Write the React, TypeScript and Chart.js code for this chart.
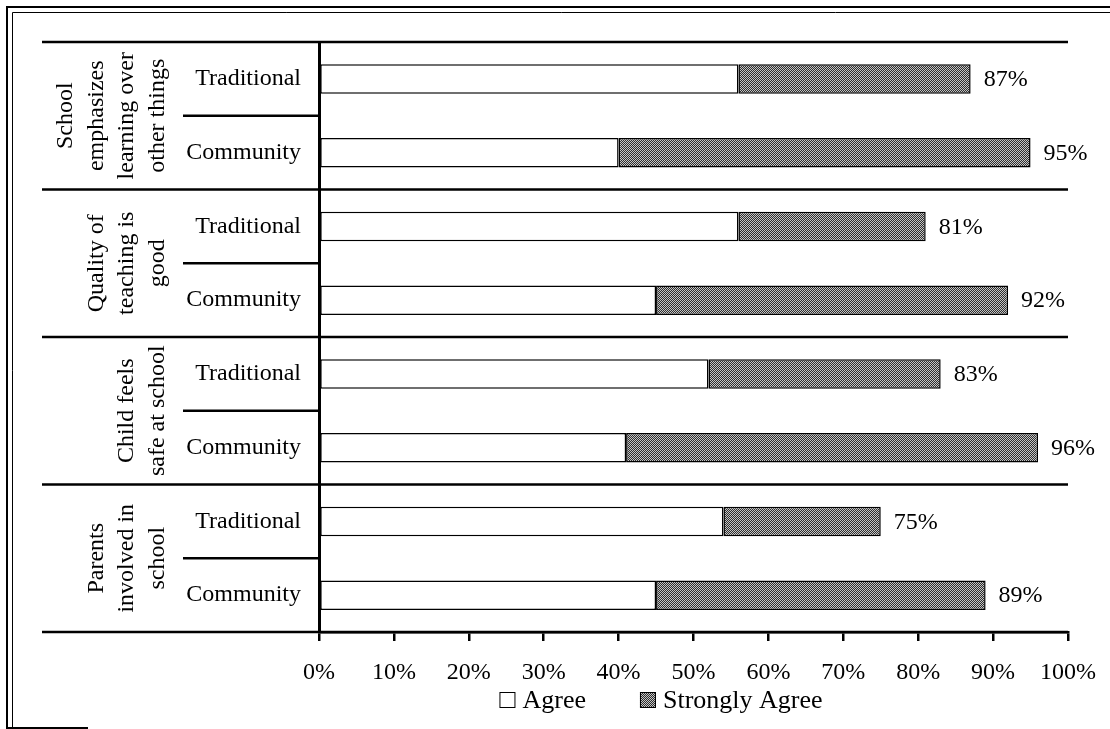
import { useEffect, useRef } from "react";
import { Chart, registerables } from "chart.js";

Chart.register(...registerables);

// Survey rows: each statement has a Traditional and a Community school row
const rowLabels = [
  "Traditional", "Community",
  "Traditional", "Community",
  "Traditional", "Community",
  "Traditional", "Community",
];
const groupLabels = [
  ["School", "emphasizes", "learning over", "other things"],
  ["Quality of", "teaching is", "good"],
  ["Child feels", "safe at school"],
  ["Parents", "involved in", "school"],
];
const agree = [56, 40, 56, 45, 52, 41, 54, 45];
const stronglyAgree = [31, 55, 25, 47, 31, 55, 21, 44];
const seriesNames = ["Agree", "Strongly Agree"];
const xMin = 0;
const xMax = 100;
const xStep = 10;

const FONT = "'Liberation Serif', 'Times New Roman', serif";

function makeStipple(): CanvasPattern | string {
  const c = document.createElement("canvas");
  c.width = 2;
  c.height = 2;
  const g = c.getContext("2d");
  if (!g) return "#888";
  g.fillStyle = "#2e2e2e";
  g.fillRect(0, 0, 2, 2);
  g.fillStyle = "#c4c4c4";
  g.fillRect(0, 0, 1, 1);
  g.fillRect(1, 1, 1, 1);
  const p = g.createPattern(c, "repeat");
  return p || "#888";
}

export default function App() {
  const ref = useRef<HTMLCanvasElement | null>(null);

  useEffect(() => {
    document.body.style.margin = "0";
    const canvas = ref.current;
    if (!canvas) return;
    const stipple = makeStipple();

    const decor = {
      id: "decor",
      beforeDraw(chart: Chart) {
        const ctx = chart.ctx;
        ctx.save();
        ctx.fillStyle = "#fff";
        ctx.fillRect(0, 0, chart.width, chart.height);
        // double page frame
        ctx.strokeStyle = "#000";
        ctx.lineWidth = 2;
        ctx.beginPath();
        ctx.moveTo(7, chart.height);
        ctx.lineTo(7, 7);
        ctx.lineTo(chart.width, 7);
        ctx.stroke();
        ctx.lineWidth = 1;
        ctx.beginPath();
        ctx.moveTo(12.5, chart.height);
        ctx.lineTo(12.5, 12.5);
        ctx.lineTo(chart.width, 12.5);
        ctx.stroke();
        ctx.lineWidth = 2;
        ctx.beginPath();
        ctx.moveTo(7, chart.height - 1);
        ctx.lineTo(88, chart.height - 1);
        ctx.stroke();
        ctx.restore();
      },
      afterDraw(chart: Chart) {
        const ctx = chart.ctx;
        const area = chart.chartArea;
        const y = chart.scales.y;
        const rowH = (area.bottom - area.top) / rowLabels.length;
        ctx.save();
        ctx.strokeStyle = "#000";
        ctx.fillStyle = "#000";

        // group separators across the full table
        ctx.lineWidth = 2.5;
        const tableLeft = 42;
        for (let g = 0; g <= groupLabels.length; g++) {
          const yy = y.getPixelForValue(g * 2) - rowH / 2;
          ctx.beginPath();
          ctx.moveTo(tableLeft, yy);
          ctx.lineTo(area.right, yy);
          ctx.stroke();
        }
        // separators between the two school rows in the label column
        for (let g = 0; g < groupLabels.length; g++) {
          const yy = y.getPixelForValue(g * 2) + rowH / 2;
          ctx.beginPath();
          ctx.moveTo(area.left - 136, yy);
          ctx.lineTo(area.left, yy);
          ctx.stroke();
        }

        // rotated statement labels
        ctx.font = `24px ${FONT}`;
        ctx.textAlign = "center";
        ctx.textBaseline = "alphabetic";
        const lastBaseline = area.left - 155;
        const lineGap = 30.7;
        groupLabels.forEach((lines, g) => {
          const cy = y.getPixelForValue(g * 2) + rowH / 2;
          const n = lines.length;
          lines.forEach((line, i) => {
            const bx = lastBaseline - (n - 1 - i) * lineGap;
            ctx.save();
            ctx.translate(bx, cy);
            ctx.rotate(-Math.PI / 2);
            ctx.fillText(line, 0, 0);
            ctx.restore();
          });
        });

        // total labels at the end of each stacked bar
        const meta = chart.getDatasetMeta(1);
        ctx.textAlign = "left";
        ctx.textBaseline = "middle";
        meta.data.forEach((el: any, i: number) => {
          const total = agree[i] + stronglyAgree[i];
          ctx.fillText(`${total}%`, el.x + 13, el.y + 1);
        });

        // legend
        ctx.font = `26px ${FONT}`;
        const box = 16;
        const gap = 7;
        const spacing = 54;
        const fills = [chart.data.datasets[0].backgroundColor, chart.data.datasets[1].backgroundColor];
        const widths = seriesNames.map((s) => box + gap + ctx.measureText(s).width);
        const total = widths[0] + widths[1] + spacing;
        let lx = 661 - total / 2;
        const ly = 700;
        seriesNames.forEach((s, i) => {
          ctx.fillStyle = fills[i] as any;
          ctx.fillRect(lx, ly - box / 2, box, box);
          ctx.lineWidth = 1;
          ctx.strokeStyle = "#000";
          ctx.strokeRect(lx + 0.5, ly - box / 2 + 0.5, box - 1, box - 1);
          ctx.fillStyle = "#000";
          ctx.textBaseline = "middle";
          ctx.fillText(s, lx + box + gap, ly + 1);
          lx += widths[i] + spacing;
        });
        ctx.restore();
      },
    };

    const chart = new Chart(canvas, {
      type: "bar",
      data: {
        labels: rowLabels,
        datasets: [
          {
            label: seriesNames[0],
            data: agree,
            backgroundColor: "#ffffff",
            borderColor: "#000",
            borderWidth: 1.5,
            borderSkipped: false,
          },
          {
            label: seriesNames[1],
            data: stronglyAgree,
            backgroundColor: stipple as any,
            borderColor: "#000",
            borderWidth: 1.5,
            borderSkipped: false,
          },
        ],
      },
      options: {
        indexAxis: "y",
        responsive: false,
        animation: false,
        events: [],
        layout: { padding: { left: 0, right: 42, top: 42, bottom: 37 } },
        datasets: { bar: { barPercentage: 0.4, categoryPercentage: 1 } },
        plugins: {
          legend: { display: false },
          tooltip: { enabled: false },
        },
        scales: {
          x: {
            stacked: true,
            min: xMin,
            max: xMax,
            ticks: {
              stepSize: xStep,
              color: "#000",
              padding: 17,
              font: { family: FONT, size: 24 },
              callback: (v: any) => `${v}%`,
            },
            grid: {
              drawOnChartArea: false,
              drawTicks: true,
              tickLength: 9,
              color: "#000",
              lineWidth: 2.5,
            },
            border: { display: true, color: "#000", width: 2.5 },
            afterFit: (s: any) => {
              s.height = 60;
              s.paddingLeft = 0;
              s.paddingRight = 0;
            },
          },
          y: {
            stacked: true,
            ticks: {
              color: "#000",
              padding: 18,
              font: { family: FONT, size: 24 },
            },
            grid: { display: false, drawTicks: false },
            border: { display: true, color: "#000", width: 3 },
            afterFit: (s: any) => {
              s.width = 319;
              s.paddingTop = 0;
              s.paddingBottom = 0;
            },
          },
        },
      },
      plugins: [decor],
    });
    return () => chart.destroy();
  }, []);

  return (
    <div style={{ width: 1110, height: 729 }}>
      <canvas ref={ref} width={1110} height={729} style={{ display: "block" }} />
    </div>
  );
}
